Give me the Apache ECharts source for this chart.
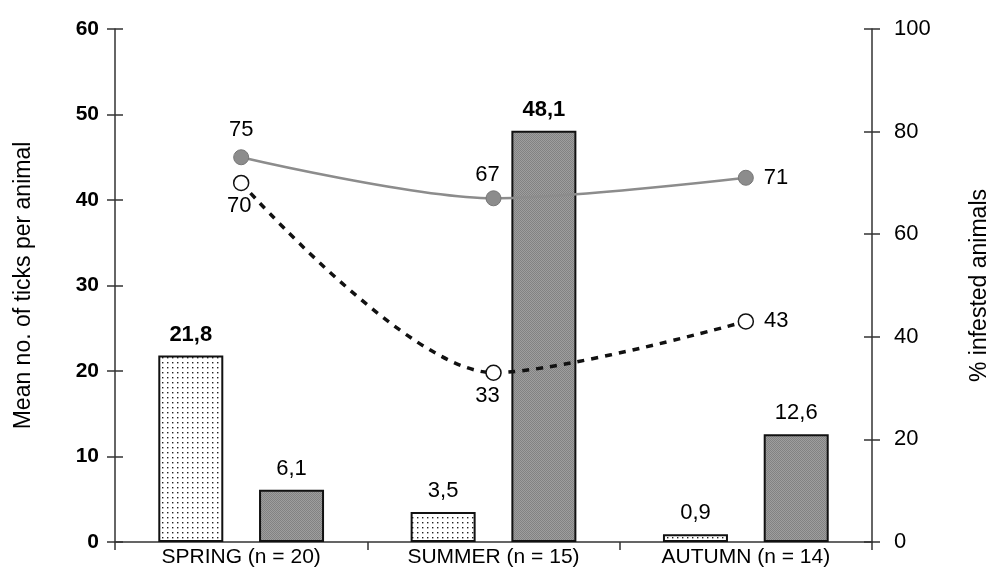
<!DOCTYPE html>
<html>
<head>
<meta charset="utf-8">
<script src="https://cdn.jsdelivr.net/npm/echarts@6/dist/echarts.min.js"></script>
<style>
  html, body { margin: 0; padding: 0; background: #fff; }
  #chart { width: 990px; height: 588px; }
</style>
</head>
<body>
<div id="chart"></div>
<script>
// data
var seasons = ['SPRING (n = 20)', 'SUMMER (n = 15)', 'AUTUMN (n = 14)'];
var ticksDotted = [21.8, 3.5, 0.9];
var ticksGrey = [6.1, 48.1, 12.6];
var infestedFilled = [75, 67, 71];
var infestedOpen = [70, 33, 43];

var font = 'Liberation Sans, Arial, sans-serif';

// dotted fill for the light bars
function dotPattern() {
  var c = document.createElement('canvas');
  c.width = 5; c.height = 5;
  var ctx = c.getContext('2d');
  ctx.fillStyle = '#fff';
  ctx.fillRect(0, 0, 5, 5);
  ctx.fillStyle = '#222';
  ctx.fillRect(2, 2, 1.4, 1.4);
  return c;
}
// halftone grey for the dark bars
function greyPattern() {
  var c = document.createElement('canvas');
  c.width = 2; c.height = 2;
  var ctx = c.getContext('2d');
  ctx.fillStyle = '#9e9e9e';
  ctx.fillRect(0, 0, 2, 2);
  ctx.fillStyle = '#828282';
  ctx.fillRect(0, 0, 1, 1);
  ctx.fillRect(1, 1, 1, 1);
  return c;
}

function comma(p) {
  return String(p.value).replace('.', ',');
}

var boldBars = { dotted: [0], grey: [1] };

function barData(values, boldIdx) {
  return values.map(function (v, i) {
    var item = { value: v };
    if (boldIdx.indexOf(i) >= 0) item.label = { fontWeight: 'bold' };
    return item;
  });
}

function lineData(values, labelPos) {
  return values.map(function (v, i) {
    return { value: v, label: labelPos[i] };
  });
}

var axisColor = '#333';
var tickStyle = { color: axisColor, width: 1.5 };

// extra copies of the value axes, only to draw the inner half of each tick
function innerTicks(min, max, interval, position) {
  return {
    type: 'value', min: min, max: max, interval: interval,
    position: position, offset: 0,
    axisLine: { show: false }, splitLine: { show: false }, axisLabel: { show: false },
    axisTick: { show: true, inside: true, length: 8, lineStyle: tickStyle }
  };
}

var option = {
  animation: false,
  backgroundColor: '#fff',
  textStyle: { fontFamily: font },
  grid: { left: 115, right: 118, top: 29, bottom: 46, outerBoundsMode: 'none', containLabel: false },
  xAxis: {
    type: 'category',
    data: seasons,
    boundaryGap: true,
    axisLine: { lineStyle: { color: axisColor, width: 1.5 } },
    axisTick: { show: true, length: 8, lineStyle: tickStyle },
    axisLabel: { color: '#000', fontSize: 21, margin: 5, fontFamily: font }
  },
  yAxis: [
    {
      type: 'value',
      min: 0, max: 60, interval: 10,
      position: 'left', offset: 0,
      name: 'Mean no. of ticks per animal',
      nameLocation: 'middle',
      nameRotate: 90,
      nameGap: 80,
      nameTextStyle: { color: '#000', fontSize: 23, fontFamily: font },
      splitLine: { show: false },
      axisLine: { show: true, lineStyle: { color: axisColor, width: 1.5 } },
      axisTick: { show: true, length: 8, lineStyle: tickStyle },
      axisLabel: { color: '#000', fontSize: 21, fontWeight: 'bold', margin: 16, fontFamily: font }
    },
    {
      type: 'value',
      min: 0, max: 100, interval: 20,
      position: 'right', offset: 0,
      name: '% infested animals',
      nameLocation: 'middle',
      nameRotate: 90,
      nameGap: 96,
      nameTextStyle: { color: '#000', fontSize: 23, fontFamily: font },
      splitLine: { show: false },
      axisLine: { show: true, lineStyle: { color: axisColor, width: 1.5 } },
      axisTick: { show: true, length: 8, lineStyle: tickStyle },
      axisLabel: { color: '#000', fontSize: 22, margin: 22, fontFamily: font }
    },
    innerTicks(0, 60, 10, 'left'),
    innerTicks(0, 100, 20, 'right')
  ],
  series: [
    {
      name: 'dotted',
      type: 'bar',
      barWidth: 65,
      barGap: '55%',
      data: barData(ticksDotted, boldBars.dotted),
      itemStyle: {
        color: { image: dotPattern(), repeat: 'repeat' },
        borderColor: '#111',
        borderWidth: 2
      },
      label: {
        show: true, position: 'top', distance: 10,
        color: '#000', fontSize: 22, fontFamily: font,
        formatter: comma
      }
    },
    {
      name: 'grey',
      type: 'bar',
      barWidth: 65,
      data: barData(ticksGrey, boldBars.grey),
      itemStyle: {
        color: { image: greyPattern(), repeat: 'repeat' },
        borderColor: '#111',
        borderWidth: 2
      },
      label: {
        show: true, position: 'top', distance: 10,
        color: '#000', fontSize: 22, fontFamily: font,
        formatter: comma
      }
    },
    {
      name: 'infested filled',
      type: 'line',
      yAxisIndex: 1,
      z: 5,
      smooth: 0.3,
      symbol: 'circle',
      symbolSize: 15,
      lineStyle: { color: '#8c8c8c', width: 2.5 },
      itemStyle: { color: '#8c8c8c', borderColor: '#777', borderWidth: 1 },
      label: { show: true, color: '#000', fontSize: 22, fontFamily: font, distance: 8 },
      data: lineData(infestedFilled, [
        { position: 'top' },
        { position: 'top', offset: [-6, 4] },
        { position: 'right', distance: 10 }
      ])
    },
    {
      name: 'infested open',
      type: 'line',
      yAxisIndex: 1,
      z: 5,
      smooth: 0.3,
      symbol: 'circle',
      symbolSize: 15,
      lineStyle: { color: '#111', width: 3.5, type: [7, 7] },
      itemStyle: { color: '#fff', borderColor: '#111', borderWidth: 1.5 },
      label: { show: true, color: '#000', fontSize: 22, fontFamily: font, distance: 6 },
      data: lineData(infestedOpen, [
        { position: 'bottom', offset: [-2, -2] },
        { position: 'bottom', offset: [-6, -2] },
        { position: 'right', distance: 10 }
      ])
    }
  ]
};

var chart = echarts.init(document.getElementById('chart'));
chart.setOption(option);
</script>
</body>
</html>
